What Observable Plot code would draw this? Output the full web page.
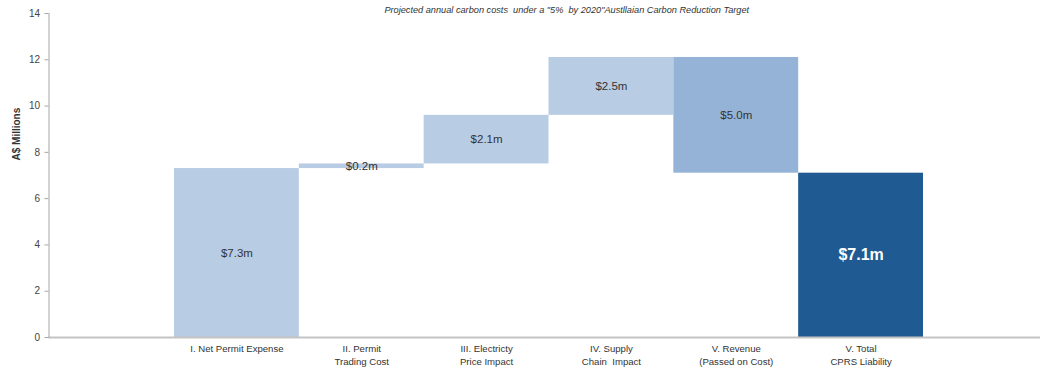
<!DOCTYPE html>
<html>
<head>
<meta charset="utf-8">
<script src="https://cdn.jsdelivr.net/npm/d3@7"></script>
<script src="https://cdn.jsdelivr.net/npm/@observablehq/plot@0.6"></script>
<style>
  body { margin: 0; background: #fff; }
  svg text { white-space: pre; }
</style>
</head>
<body>
<div id="chart"></div>
<script>
// Waterfall of projected annual carbon costs (A$ millions)
const title = "Projected annual carbon costs  under a \"5%  by 2020\"Austllaian Carbon Reduction Target";
const categories = [
  "I. Net Permit Expense",
  "II. Permit\nTrading Cost",
  "III. Electricty\nPrice Impact",
  "IV. Supply\nChain  Impact",
  "V. Revenue\n(Passed on Cost)",
  "V. Total\nCPRS Liability"
];
const amounts = [7.3, 0.2, 2.1, 2.5, -5.0, 7.1];
const kinds = ["increase", "increase", "increase", "increase", "decrease", "total"];
const yTicks = [0, 2, 4, 6, 8, 10, 12, 14];

// Running totals: each step floats on the previous one, the total starts at zero
let running = 0;
const bars = categories.map((category, i) => {
  let y1, y2;
  if (kinds[i] === "total") {
    y1 = 0; y2 = amounts[i];
  } else {
    y1 = running; y2 = running + amounts[i]; running = y2;
  }
  return {category, kind: kinds[i], y1, y2, mid: (y1 + y2) / 2,
          label: `$${Math.abs(amounts[i]).toFixed(1)}m`};
});

const chart = Plot.plot({
  width: 1040,
  height: 369,
  marginLeft: 48.5,
  marginRight: 0,
  marginTop: 13,
  marginBottom: 32,
  style: {fontFamily: "'Liberation Sans', Arial, sans-serif", background: "#fff", color: "#333"},
  x: {type: "band", domain: categories, range: [174, 923], padding: 0, round: false},
  y: {domain: [0, 14]},
  color: {domain: ["increase", "decrease", "total"], range: ["#B8CCE4", "#95B3D7", "#1F5A92"]},
  marks: [
    Plot.barY(bars, {x: "category", y1: "y1", y2: "y2", fill: "kind"}),
    Plot.ruleY([0], {stroke: "#c4c4c4", strokeWidth: 2}),
    Plot.frame({anchor: "left", stroke: "#a6a6a6"}),
    Plot.axisY({ticks: yTicks, tickSize: 4, tickPadding: 5, stroke: "#a6a6a6", fill: "#444",
                fontSize: 10, label: null}),
    Plot.axisX({tickSize: 0, tickPadding: 6, fill: "#333", fontSize: 9.6, lineHeight: 1.3, label: null}),
    Plot.text(bars.filter(d => d.kind !== "total"), {x: "category", y: "mid", text: "label", fontSize: 11.5, fill: "#333"}),
    Plot.text(bars.filter(d => d.kind === "total"), {x: "category", y: "mid", text: "label", fontSize: 16, fontWeight: "bold", fill: "#fff"}),
    Plot.text(["A$ Millions"], {frameAnchor: "left", rotate: -90, dx: -32, dy: -15, text: d => d, fontSize: 10, fontWeight: "bold", fill: "#333"}),
    Plot.text([title], {frameAnchor: "top", dx: 22, dy: -7, text: d => d, fontSize: 9.2, fontStyle: "italic", fill: "#333"})
  ]
});
document.getElementById("chart").appendChild(chart);
</script>
</body>
</html>
